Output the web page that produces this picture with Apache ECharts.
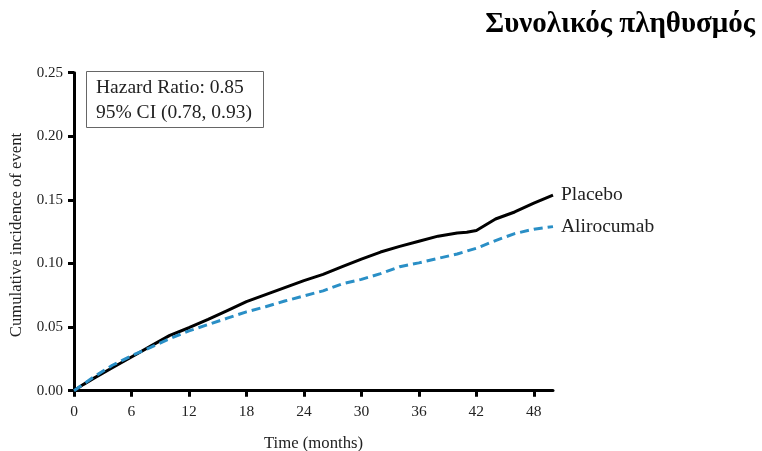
<!DOCTYPE html>
<html>
<head>
<meta charset="utf-8">
<script src="https://cdn.jsdelivr.net/npm/echarts@6/dist/echarts.min.js"></script>
<style>html,body{margin:0;padding:0;background:#fff}#c{width:762px;height:451px}</style>
</head>
<body>
<div id="c"></div>
<script>
const titleText = 'Συνολικός πληθυσμός';
const xTicks = [0, 6, 12, 18, 24, 30, 36, 42, 48];
const yTicks = [0, 0.05, 0.10, 0.15, 0.20, 0.25];
const placeboMonths = [0, 1, 2, 4, 6, 8, 10, 12, 14, 16, 18, 20, 22, 24, 26, 28, 30, 32, 34, 36, 38, 40, 41, 42, 43, 44, 46, 48, 50];
const placeboValues = [0, 0.005, 0.0095, 0.018, 0.0265, 0.035, 0.0435, 0.0495, 0.056, 0.063, 0.070, 0.0755, 0.081, 0.0865, 0.0915, 0.0975, 0.1035, 0.109, 0.1135, 0.1175, 0.1215, 0.124, 0.1245, 0.126, 0.1305, 0.135, 0.1405, 0.1475, 0.1538];
const aliroMonths = [0, 2, 4, 6, 8, 10, 12, 14, 16, 18, 20, 22, 24, 26, 28, 30, 32, 34, 36, 38, 40, 42, 44, 46, 48, 50];
const aliroValues = [0, 0.0105, 0.020, 0.0275, 0.034, 0.041, 0.047, 0.052, 0.057, 0.062, 0.066, 0.0705, 0.0745, 0.0785, 0.084, 0.0875, 0.092, 0.0975, 0.1005, 0.104, 0.1075, 0.112, 0.118, 0.1235, 0.127, 0.129];
const hrLines = ['Hazard Ratio: 0.85', '95% CI (0.78, 0.93)'];
const xName = 'Time (months)';
const yName = 'Cumulative incidence of event';

const FONT = '"Liberation Serif", "Times New Roman", serif';
const chart = echarts.init(document.getElementById('c'), null, {renderer: 'canvas'});
chart.setOption({
  animation: false,
  backgroundColor: '#fff',
  textStyle: {fontFamily: FONT},
  graphic: [
    {type: 'text', x: 755, y: 25,
      style: {text: titleText, fontFamily: FONT, fontSize: 29, fontWeight: 'bold', fill: '#000', align: 'right', verticalAlign: 'middle'}},
    {type: 'text', x: 17, y: 235, rotation: Math.PI / 2,
      style: {text: yName, fontFamily: FONT, fontSize: 16.7, fill: '#222', align: 'center', verticalAlign: 'middle'}},
    {type: 'rect', shape: {x: 86.5, y: 71.5, width: 177, height: 56},
      style: {fill: '#fff', stroke: '#666', lineWidth: 1}, z: 10},
    {type: 'text', x: 96, y: 88, z: 11,
      style: {text: hrLines[0], fontFamily: FONT, fontSize: 19.5, fill: '#222', verticalAlign: 'middle'}},
    {type: 'text', x: 96, y: 113, z: 11,
      style: {text: hrLines[1], fontFamily: FONT, fontSize: 19.5, fill: '#222', verticalAlign: 'middle'}}
  ],
  grid: {left: 74, right: 209, top: 72.7, bottom: 60.3, containLabel: false, outerBoundsMode: 'none'},
  xAxis: {
    type: 'value', min: 0, max: 50, interval: 6,
    name: xName, nameLocation: 'middle', nameGap: 44,
    nameTextStyle: {fontFamily: FONT, fontSize: 16.7, color: '#222'},
    splitLine: {show: false},
    axisLine: {show: true, lineStyle: {color: '#000', width: 3}},
    axisTick: {show: true, length: 6, lineStyle: {color: '#000', width: 3}, customValues: xTicks},
    axisLabel: {fontFamily: FONT, fontSize: 15.5, color: '#222', margin: 13, customValues: xTicks}
  },
  yAxis: {
    type: 'value', min: 0, max: 0.25, interval: 0.05,
    splitLine: {show: false},
    axisLine: {show: true, lineStyle: {color: '#000', width: 3}},
    axisTick: {show: true, length: 6, lineStyle: {color: '#000', width: 3}, customValues: yTicks},
    axisLabel: {fontFamily: FONT, fontSize: 15, color: '#222', margin: 11, customValues: yTicks,
      formatter: v => v.toFixed(2)}
  },
  series: [
    {
      name: 'Placebo', type: 'line', showSymbol: false, smooth: false,
      data: placeboMonths.map((m, i) => [m, placeboValues[i]]),
      lineStyle: {color: '#000', width: 3},
      itemStyle: {color: '#000'},
      endLabel: {show: true, formatter: '{a}', distance: 8, fontFamily: FONT, fontSize: 19.5, color: '#222'}
    },
    {
      name: 'Alirocumab', type: 'line', showSymbol: false, smooth: false,
      data: aliroMonths.map((m, i) => [m, aliroValues[i]]),
      lineStyle: {color: '#2a8fc6', width: 3, type: [9, 5]},
      itemStyle: {color: '#2a8fc6'},
      endLabel: {show: true, formatter: '{a}', distance: 8, fontFamily: FONT, fontSize: 19.5, color: '#222'}
    }
  ]
});
</script>
</body>
</html>
